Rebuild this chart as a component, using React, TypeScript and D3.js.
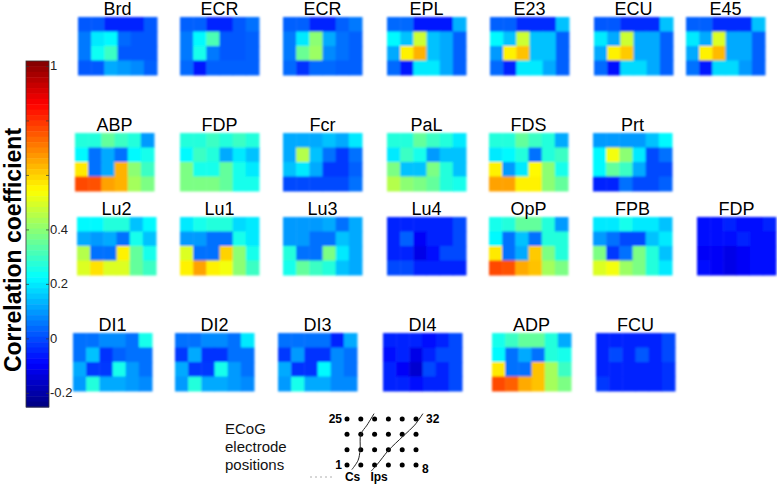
import * as d3 from 'd3';
import { useEffect, useRef } from 'react';

// 4 x 6 correlation maps (row 0 = top)
const brd = [[0.02, 0.02, -0.05, -0.05, -0.05, 0.02], [0.06, 0.2, 0.22, 0.04, 0.02, 0.02], [0.06, 0.24, 0.3, 0.02, 0.02, 0.02], [0.02, 0.02, 0.12, 0.1, 0.08, 0.03]];
const ecr1 = [[0.03, 0.03, -0.05, -0.05, 0.02, 0.05], [0.06, 0.22, 0.32, 0.02, 0.02, 0.03], [0.06, 0.25, 0.06, 0.02, 0.02, 0.03], [0.04, -0.06, 0.03, 0.03, 0.03, 0.03]];
const ecr2 = [[0.03, 0.03, -0.05, -0.05, 0.03, 0.06], [0.06, 0.2, 0.4, 0.12, 0.05, 0.03], [0.06, 0.36, 0.42, 0.08, 0.05, 0.03], [0.04, -0.03, 0.04, 0.04, 0.03, 0.03]];
const epl = [[0.04, 0.04, -0.06, -0.06, -0.06, 0.13], [0.22, 0.15, 0.48, 0.15, 0.12, 0.03], [0.12, 0.56, 0.64, 0.15, 0.12, 0.03], [0.04, -0.06, 0.2, 0.2, 0.12, 0.03]];
const e23 = [[0.03, 0.03, -0.04, -0.04, -0.04, 0.15], [0.22, 0.15, 0.48, 0.15, 0.15, 0.03], [0.1, 0.56, 0.62, 0.15, 0.15, 0.03], [0.04, -0.05, 0.2, 0.2, 0.12, 0.03]];
const ecu = [[0.02, 0.02, -0.04, -0.04, -0.04, 0.15], [0.2, 0.12, 0.48, 0.12, 0.12, 0.03], [0.12, 0.56, 0.61, 0.12, 0.12, 0.03], [0.04, -0.07, 0.18, 0.18, 0.12, 0.03]];
const e45 = [[0.03, 0.03, -0.04, -0.04, -0.04, 0.15], [0.2, 0.12, 0.5, 0.12, 0.12, 0.03], [0.12, 0.56, 0.63, 0.12, 0.12, 0.03], [0.05, -0.06, 0.18, 0.18, 0.1, 0.03]];
const abp = [[0.27, 0.27, 0.35, 0.3, 0.27, 0.1], [0.22, 0.05, 0.12, 0.05, 0.22, 0.25], [0.57, 0.05, 0.12, 0.64, 0.4, 0.3], [0.77, 0.76, 0.66, 0.64, 0.43, 0.38]];
const fdp1 = [[0.27, 0.27, 0.3, 0.27, 0.3, 0.27], [0.22, 0.3, 0.27, 0.12, 0.2, 0.15], [0.38, 0.25, 0.25, 0.35, 0.25, 0.2], [0.38, 0.38, 0.38, 0.35, 0.25, 0.25]];
const fcr = [[0.12, 0.12, 0.12, 0.15, 0.12, 0.2], [0.12, 0.45, 0.15, 0.05, -0.02, 0.05], [0.15, 0.2, 0.12, -0.02, -0.02, 0.03], [0.0, 0.0, 0.0, 0.0, 0.0, 0.05]];
const pal = [[0.27, 0.27, 0.35, 0.3, 0.27, 0.2], [0.2, 0.3, 0.25, 0.1, 0.15, 0.15], [0.38, 0.15, 0.15, 0.38, 0.27, 0.15], [0.45, 0.4, 0.38, 0.35, 0.27, 0.25]];
const fds = [[0.27, 0.27, 0.35, 0.3, 0.27, 0.12], [0.2, 0.22, 0.27, 0.05, 0.27, 0.3], [0.56, 0.1, 0.2, 0.55, 0.4, 0.25], [0.66, 0.66, 0.56, 0.56, 0.4, 0.35]];
const prt = [[0.1, 0.1, 0.1, 0.1, 0.15, 0.22], [0.22, 0.53, 0.4, 0.2, 0.0, 0.05], [0.22, 0.35, 0.3, 0.12, 0.0, 0.0], [-0.05, -0.05, 0.05, 0.0, 0.0, 0.03]];
const lu2 = [[0.22, 0.22, 0.27, 0.27, 0.15, 0.22], [0.12, 0.1, 0.12, 0.05, 0.25, 0.15], [0.45, 0.05, 0.05, 0.56, 0.35, 0.25], [0.5, 0.58, 0.5, 0.5, 0.35, 0.3]];
const lu1 = [[0.2, 0.25, 0.27, 0.27, 0.18, 0.2], [0.1, 0.1, 0.05, 0.05, 0.25, 0.2], [0.5, 0.05, 0.05, 0.6, 0.4, 0.25], [0.56, 0.66, 0.56, 0.53, 0.4, 0.3]];
const lu3 = [[0.1, 0.1, 0.1, 0.12, 0.05, 0.12], [0.1, 0.1, 0.05, 0.05, 0.15, 0.12], [0.27, 0.05, 0.05, 0.38, 0.2, 0.12], [0.25, 0.35, 0.3, 0.27, 0.15, 0.12]];
const lu4 = [[-0.05, -0.05, -0.05, -0.05, -0.05, 0.0], [-0.05, 0.03, -0.1, -0.05, -0.05, 0.0], [-0.05, -0.05, -0.12, -0.07, 0.0, 0.0], [0.0, 0.0, -0.05, -0.05, -0.05, -0.05]];
const opp = [[0.25, 0.27, 0.35, 0.35, 0.27, 0.1], [0.22, 0.05, 0.15, 0.05, 0.27, 0.27], [0.57, 0.05, 0.12, 0.61, 0.38, 0.27], [0.77, 0.76, 0.65, 0.62, 0.43, 0.38]];
const fpb = [[0.2, 0.2, 0.25, 0.2, 0.2, 0.15], [0.1, 0.05, 0.0, 0.0, 0.15, 0.2], [0.38, -0.02, 0.05, 0.38, 0.27, 0.15], [0.5, 0.53, 0.42, 0.38, 0.27, 0.2]];
const fdp2 = [[-0.07, -0.07, -0.05, -0.07, -0.07, -0.05], [-0.07, -0.07, -0.07, -0.05, -0.07, -0.07], [-0.1, -0.1, -0.12, -0.1, -0.07, -0.07], [-0.07, -0.1, -0.12, -0.1, -0.07, -0.07]];
const di1 = [[0.05, 0.05, 0.08, 0.08, 0.05, 0.25], [0.05, 0.15, -0.03, 0.03, 0.05, 0.05], [0.12, -0.02, -0.02, 0.25, 0.1, 0.05], [0.1, 0.27, 0.12, 0.12, 0.1, 0.08]];
const di2 = [[0.05, 0.05, 0.08, 0.08, 0.05, 0.2], [-0.02, 0.12, -0.03, -0.03, 0.05, 0.05], [0.12, -0.02, -0.02, 0.25, 0.1, 0.05], [0.1, 0.27, 0.12, 0.12, 0.1, 0.08]];
const di3 = [[0.05, 0.05, 0.05, 0.05, -0.05, 0.12], [-0.02, 0.1, -0.03, -0.03, 0.08, 0.05], [0.12, -0.03, -0.03, 0.22, 0.08, 0.05], [0.1, 0.25, 0.12, 0.12, 0.08, 0.08]];
const di4 = [[-0.05, -0.05, -0.05, -0.07, -0.05, 0.0], [-0.08, -0.05, -0.12, -0.05, 0.0, 0.0], [-0.05, -0.1, -0.15, 0.0, -0.05, 0.0], [-0.05, -0.05, -0.07, -0.05, -0.05, 0.0]];
const adp = [[0.25, 0.3, 0.35, 0.35, 0.27, 0.12], [0.22, 0.05, 0.12, 0.05, 0.27, 0.25], [0.57, 0.05, 0.05, 0.62, 0.43, 0.3], [0.77, 0.74, 0.65, 0.62, 0.43, 0.38]];
const fcu = [[-0.05, -0.05, -0.05, -0.05, -0.05, 0.0], [-0.05, 0.0, -0.05, 0.02, -0.05, 0.0], [-0.05, -0.05, -0.05, -0.05, -0.05, -0.03], [-0.02, -0.05, -0.05, -0.05, -0.05, -0.03]];

const panelRows = [
    [['Brd', brd], ['ECR', ecr1], ['ECR', ecr2], ['EPL', epl], ['E23', e23], ['ECU', ecu], ['E45', e45]],
    [['ABP', abp], ['FDP', fdp1], ['Fcr', fcr], ['PaL', pal], ['FDS', fds], ['Prt', prt]],
    [['Lu2', lu2], ['Lu1', lu1], ['Lu3', lu3], ['Lu4', lu4], ['OpP', opp], ['FPB', fpb], ['FDP', fdp2]],
    [['DI1', di1], ['DI2', di2], ['DI3', di3], ['DI4', di4], ['ADP', adp], ['FCU', fcu]],
] as [string, number[][]][][];

const colorTicks = [-0.2, 0, 0.2, 0.4, 0.6, 0.8, 1];
const colorTickLabels = ['-0.2', '0', '0.2', '0.4', '', '', '1'];

// electrode grid (6 x 4) and sulcus traces in grid units
const electrodeCols = [0, 1, 2, 3, 4, 5];
const electrodeRows = [0, 1, 2, 3];
const csTrace: [number, number][] = [[1.96, -0.35], [1.45, 0.4], [1.0, 1.0], [0.95, 2.0], [0.8, 2.7], [0.35, 3.3]];
const ipsTrace: [number, number][] = [[5.5, -0.35], [4.9, 0.4], [4.15, 1.05], [3.5, 1.6], [2.95, 2.1], [2.2, 2.95], [1.75, 3.4]];

// layout
const rowTop = [17, 133, 217, 333];
const rowX = [
    [78, 180, 283, 387, 490, 594, 686],
    [75, 180, 283, 387, 489, 593],
    [77, 180, 283, 387, 489, 593, 697],
    [73, 175, 278, 383, 492, 596],
];
const mapW = 79,
    mapH = 58;

const jet = (t: number) => {
    const c = (v: number) => Math.round(255 * Math.max(0, Math.min(1, v)));
    return d3.rgb(c(1.5 - Math.abs(4 * t - 3)), c(1.5 - Math.abs(4 * t - 2)), c(1.5 - Math.abs(4 * t - 1))).toString();
};
const cmin = -0.25,
    cmax = 1.02;
const color = (v: number) => jet((v - cmin) / (cmax - cmin));

export default function App() {
    const svgRef = useRef(null);
    useEffect(() => {
        if (!svgRef.current) return;
        const svg = d3.select(svgRef.current);
        svg.selectAll('*').remove();
        const font = 'Liberation Sans, Arial, sans-serif';

        svg.append('defs')
            .append('filter')
            .attr('id', 'soft')
            .attr('x', '-5%')
            .attr('y', '-5%')
            .attr('width', '110%')
            .attr('height', '110%')
            .append('feGaussianBlur')
            .attr('stdDeviation', 0.8);

        const cx = d3.scaleBand<number>().domain(d3.range(6)).range([0, mapW]);
        const cy = d3.scaleBand<number>().domain(d3.range(4)).range([0, mapH]);

        panelRows.forEach((row, ri) => {
            row.forEach(([name, grid], ci) => {
                const g = svg.append('g').attr('transform', `translate(${rowX[ri][ci]},${rowTop[ri]})`);
                const cells = g.append('g').attr('filter', 'url(#soft)');
                grid.forEach((vals, r) => {
                    cells.selectAll(null)
                        .data(vals)
                        .enter()
                        .append('rect')
                        .attr('x', (_, c) => cx(c)!)
                        .attr('y', cy(r)!)
                        .attr('width', cx.bandwidth() + 0.5)
                        .attr('height', cy.bandwidth() + 0.5)
                        .attr('fill', (d) => color(d));
                });
                g.append('text')
                    .attr('x', mapW / 2)
                    .attr('y', -2)
                    .attr('text-anchor', 'middle')
                    .attr('font-family', font)
                    .attr('font-size', 18)
                    .attr('fill', '#000')
                    .text(name);
            });
        });

        // colorbar
        const barX = 26,
            barW = 23;
        const yc = d3.scaleLinear().domain([cmin, cmax]).range([407, 61]);
        const steps = d3.range(64);
        const stepH = (yc(cmin) - yc(cmax)) / 64;
        svg.append('g')
            .selectAll('rect')
            .data(steps)
            .enter()
            .append('rect')
            .attr('x', barX)
            .attr('y', (d) => yc(cmax) + d * stepH)
            .attr('width', barW)
            .attr('height', stepH + 0.5)
            .attr('fill', (d) => jet(1 - (d + 0.5) / 64));
        svg.append('rect')
            .attr('x', barX)
            .attr('y', yc(cmax))
            .attr('width', barW)
            .attr('height', yc(cmin) - yc(cmax))
            .attr('fill', 'none')
            .attr('stroke', '#333')
            .attr('stroke-width', 0.8);
        const tk = svg.append('g').selectAll('g').data(colorTicks).enter().append('g');
        tk.append('line')
            .attr('x1', barX)
            .attr('x2', barX + 3)
            .attr('y1', (d) => yc(d))
            .attr('y2', (d) => yc(d))
            .attr('stroke', '#333')
            .attr('stroke-width', 0.7);
        tk.append('line')
            .attr('x1', barX + barW - 3)
            .attr('x2', barX + barW)
            .attr('y1', (d) => yc(d))
            .attr('y2', (d) => yc(d))
            .attr('stroke', '#333')
            .attr('stroke-width', 0.7);
        tk.append('text')
            .attr('x', barX + barW + 1)
            .attr('y', (d) => yc(d) + 4)
            .attr('font-family', font)
            .attr('font-size', 13)
            .attr('fill', '#222')
            .text((_, i) => colorTickLabels[i]);

        svg.append('text')
            .attr('transform', 'translate(21,250) rotate(-90)')
            .attr('text-anchor', 'middle')
            .attr('font-family', font)
            .attr('font-size', 23)
            .attr('font-weight', 'bold')
            .attr('fill', '#000')
            .text('Correlation coefficient');

        // electrode positions inset
        const ex = d3.scaleLinear().domain([0, 5]).range([347, 416]);
        const ey = d3.scaleLinear().domain([0, 3]).range([419, 465]);
        const inset = svg.append('g');
        ['ECoG', 'electrode', 'positions'].forEach((t, i) => {
            inset.append('text')
                .attr('x', 225)
                .attr('y', 434 + i * 18)
                .attr('font-family', font)
                .attr('font-size', 15)
                .attr('fill', '#111')
                .text(t);
        });
        electrodeRows.forEach((r) => {
            inset.selectAll(null)
                .data(electrodeCols)
                .enter()
                .append('circle')
                .attr('cx', (c) => ex(c))
                .attr('cy', ey(r))
                .attr('r', 2.5)
                .attr('fill', '#000');
        });
        const trace = d3
            .line<[number, number]>()
            .x((d) => ex(d[0]))
            .y((d) => ey(d[1]))
            .curve(d3.curveCatmullRom);
        [csTrace, ipsTrace].forEach((tr) => {
            inset.append('path').attr('d', trace(tr)).attr('fill', 'none').attr('stroke', '#222').attr('stroke-width', 1);
        });
        const lbl = (x: number, y: number, t: string, anchor = 'start') =>
            inset.append('text')
                .attr('x', x)
                .attr('y', y)
                .attr('text-anchor', anchor)
                .attr('font-family', font)
                .attr('font-size', 12)
                .attr('font-weight', 'bold')
                .attr('fill', '#000')
                .text(t);
        lbl(ex(0) - 5, ey(0) + 4, '25', 'end');
        lbl(ex(0) - 5, ey(3) + 4, '1', 'end');
        lbl(ex(5) + 10, ey(0) + 4, '32');
        lbl(ex(5) + 6, ey(3) + 8, '8');
        lbl(ex(-0.15), 481, 'Cs');
        lbl(ex(1.7), 481, 'Ips');
        inset.append('line')
            .attr('x1', 310)
            .attr('x2', 334)
            .attr('y1', 477)
            .attr('y2', 477)
            .attr('stroke', '#999')
            .attr('stroke-width', 0.8)
            .attr('stroke-dasharray', '2,3');
    });
    return (
        <div style={{ width: 777, height: 487, position: 'absolute', left: 0, top: 0, background: '#fff' }}>
            <svg ref={svgRef} width={777} height={487} />
        </div>
    );
}
